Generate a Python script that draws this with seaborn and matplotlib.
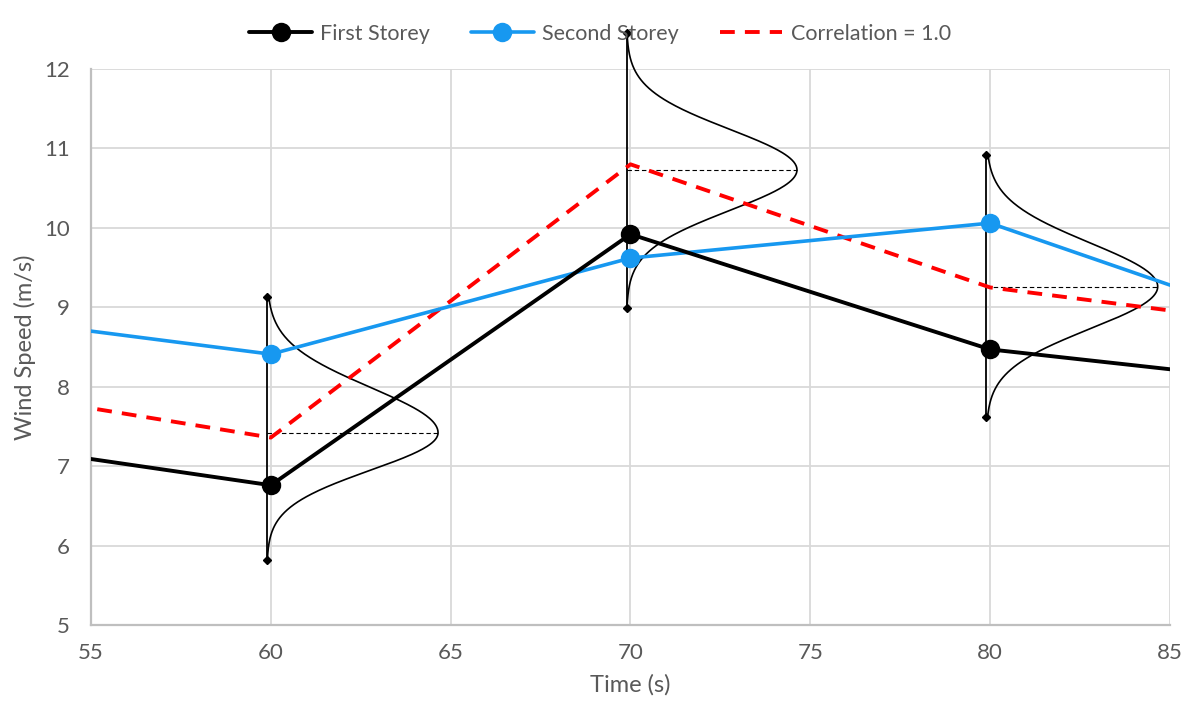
import numpy as np
import pandas as pd
import matplotlib
matplotlib.use("Agg")
import matplotlib.pyplot as plt
import seaborn as sns

# ---- data ----
times = [50, 60, 70, 80, 90]
first_storey = [7.42, 6.76, 9.92, 8.47, 7.97]
second_storey = [8.99, 8.41, 9.62, 10.06, 8.50]
correlation = [8.10, 7.36, 10.80, 9.25, 8.67]

# distribution sketches drawn at three time instants
dist_x = [59.89, 69.89, 79.89]
dist_mean = [7.42, 10.73, 9.26]
dist_low = [5.82, 8.99, 7.62]
dist_high = [9.13, 12.45, 10.92]
dist_sigma_up = [0.57, 0.51, 0.55]
dist_sigma_low = [0.47, 0.51, 0.53]
dist_width = [4.76, 4.74, 4.77]

x_ticks = [55, 60, 65, 70, 75, 80, 85]
y_ticks = [5, 6, 7, 8, 9, 10, 11, 12]

sns.set_theme(style="white")
plt.rcParams["font.family"] = ["Lato", "DejaVu Sans"]
text_color = "#595959"

fig = plt.figure(figsize=(11.88, 7.10), dpi=100)
ax = fig.add_axes([0.0766, 0.1197, 0.9082, 0.7831])

blue = "#1798F0"

# distributions (drawn first, beneath the series)
for x0, m, lo, hi, su, sl, w in zip(dist_x, dist_mean, dist_low, dist_high,
                                    dist_sigma_up, dist_sigma_low, dist_width):
    yy = np.linspace(lo, hi, 300)
    sig = np.where(yy >= m, su, sl)
    xx = x0 + w * np.exp(-((yy - m) ** 2) / (2 * sig ** 2))
    ax.plot(xx, yy, color="black", lw=1.2, clip_on=False, zorder=2)
    ax.plot([x0, x0], [lo, hi], color="black", lw=1.3, marker="D",
            markersize=4.5, clip_on=False, zorder=2)
    ax.plot([x0, x0 + w], [m, m], color="black", lw=0.8,
            ls=(0, (4, 2.5)), zorder=2)

sns.lineplot(x=times, y=correlation, ax=ax, color="red", lw=2.8,
             ls=(0, (3.8, 2.6)), label="Correlation = 1.0", zorder=3)
sns.lineplot(x=times, y=second_storey, ax=ax, color=blue, lw=2.6,
             marker="o", markersize=14, markeredgewidth=0,
             label="Second Storey", zorder=4)
sns.lineplot(x=times, y=first_storey, ax=ax, color="black", lw=2.8,
             marker="o", markersize=14, markeredgewidth=0,
             label="First Storey", zorder=5)

ax.set_xlim(55, 85)
ax.set_ylim(5, 12)
ax.set_xticks(x_ticks)
ax.set_yticks(y_ticks)
ax.grid(True, color="#D9D9D9", lw=1.3)
ax.set_axisbelow(True)
for s in ["top", "right"]:
    ax.spines[s].set_visible(False)
for s in ["left", "bottom"]:
    ax.spines[s].set_color("#BFBFBF")
    ax.spines[s].set_linewidth(1.6)
ax.tick_params(axis="both", length=0, labelsize=16, labelcolor=text_color)
ax.tick_params(axis="x", pad=13)
ax.tick_params(axis="y", pad=15)
ax.set_xlabel("Time (s)", fontsize=17, color=text_color, labelpad=8)
ax.set_ylabel("Wind Speed (m/s)", fontsize=17, color=text_color, labelpad=6)

handles, labels = ax.get_legend_handles_labels()
order = ["First Storey", "Second Storey", "Correlation = 1.0"]
hmap = dict(zip(labels, handles))
leg = ax.legend([hmap[l] for l in order], order, ncol=3, frameon=False,
                loc="center", bbox_to_anchor=(0.472, 1.063),
                fontsize=15.5, handlelength=2.9, columnspacing=1.9,
                handletextpad=0.4)
for t in leg.get_texts():
    t.set_color(text_color)

fig.savefig("out.png", dpi=100)
